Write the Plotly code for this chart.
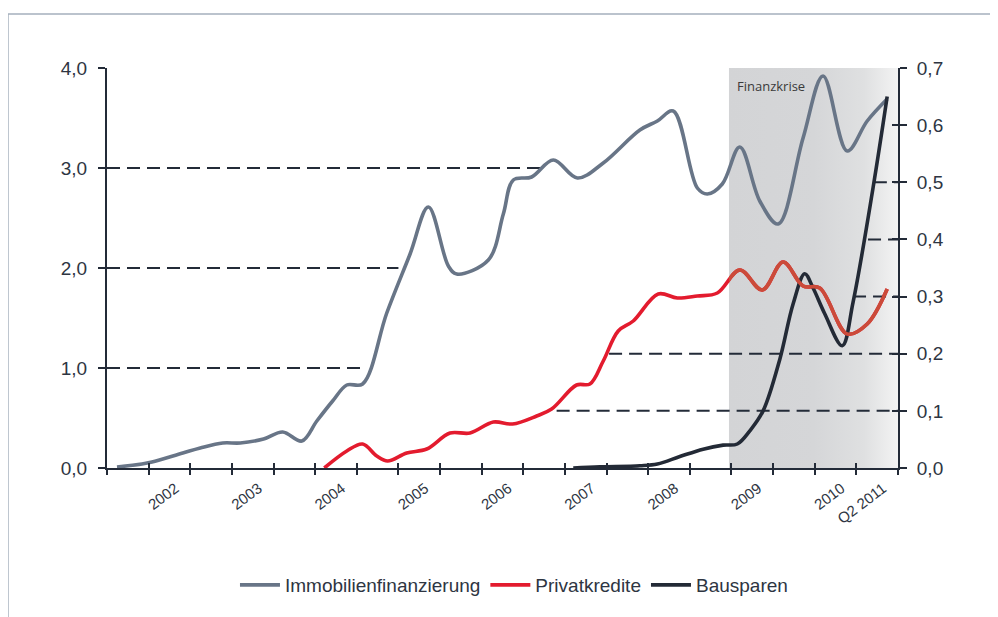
import plotly.graph_objects as go

# ---------------- data ----------------
immo_x = [2001.12, 2001.42, 2001.54, 2001.91, 2002.12, 2002.39, 2002.60, 2002.88, 2003.11, 2003.34,
          2003.52, 2003.71, 2003.88, 2004.07, 2004.36, 2004.64, 2004.86, 2005.10, 2005.20, 2005.58,
          2005.76, 2005.88, 2006.10, 2006.36, 2006.65, 2006.96, 2007.40, 2007.61, 2007.80, 2008.09,
          2008.21, 2008.39, 2008.60, 2008.84, 2009.06, 2009.36, 2009.60, 2009.89, 2010.13, 2010.37]
immo_y = [0.01, 0.04, 0.06, 0.15, 0.20, 0.25, 0.25, 0.29, 0.36, 0.27,
          0.47, 0.67, 0.83, 0.84, 1.55, 2.14, 2.61, 2.02, 1.94, 2.08,
          2.54, 2.88, 2.91, 3.08, 2.90, 3.05, 3.38, 3.47, 3.57, 2.80,
          2.74, 2.84, 3.21, 2.67, 2.44, 3.30, 3.92, 3.17, 3.47, 3.69]

priv_x = [2003.61, 2003.88, 2004.07, 2004.24, 2004.37, 2004.60, 2004.84, 2005.12, 2005.36, 2005.64,
          2005.87, 2006.16, 2006.34, 2006.64, 2006.80, 2006.96, 2007.14, 2007.32, 2007.62, 2007.85,
          2008.09, 2008.33, 2008.60, 2008.87, 2009.12, 2009.36, 2009.56, 2009.89, 2010.13, 2010.37]
priv_y = [0.00, 0.17, 0.24, 0.12, 0.07, 0.15, 0.19, 0.35, 0.35, 0.46,
          0.44, 0.52, 0.59, 0.83, 0.84, 1.07, 1.37, 1.47, 1.74, 1.70,
          1.72, 1.75, 1.98, 1.78, 2.06, 1.82, 1.80, 1.34, 1.44, 1.79]

baus_x = [2006.60, 2006.92, 2007.40, 2007.61, 2007.88, 2008.16, 2008.40, 2008.57, 2008.72, 2008.88,
          2009.08, 2009.24, 2009.38, 2009.48, 2009.62, 2009.83, 2009.96, 2010.20, 2010.37]
baus_y = [0.000, 0.002, 0.004, 0.007, 0.020, 0.033, 0.040, 0.042, 0.065, 0.100,
          0.190, 0.287, 0.340, 0.315, 0.270, 0.214, 0.290, 0.490, 0.650]

tick_positions = [2001 + 0.5 * i for i in range(20)]
label_positions = [2002, 2003, 2004, 2005, 2006, 2007, 2008, 2009, 2010, 2010.5]
label_texts = ["2002", "2003", "2004", "2005", "2006", "2007", "2008", "2009", "2010", "Q2 2011"]
label_shift = -0.18  # labels sit slightly left of their tick in the reference

crisis_start, crisis_end = 2008.47, 2010.5
x_range = [2001.0, 2010.5]
left_range = [0, 4]
right_range = [0, 0.7]
left_ticks = [0, 1, 2, 3, 4]
right_ticks = [0, 0.1, 0.2, 0.3, 0.4, 0.5, 0.6, 0.7]

# dashed reference lines: (level, x_start, x_end)
left_dash = [(1.0, 2001.0, 2004.10), (2.0, 2001.0, 2004.50), (3.0, 2001.0, 2006.26)]
right_dash = [(0.1, 2006.40, 2010.5), (0.2, 2007.03, 2010.5), (0.3, 2009.96, 2010.5),
              (0.4, 2010.14, 2010.5), (0.5, 2010.21, 2010.5)]

# ---------------- styles ----------------
C_GRAY = "#687587"
C_RED = "#e31b2e"
C_RED_CRISIS = "#cb4b3a"
C_DARK = "#232a36"
C_AXIS = "#232b38"
C_TEXT = "#2e3542"
LW = 3.6

fig = go.Figure()

# crisis shading with horizontal gradient
fig.add_trace(go.Scatter(
    x=[crisis_start, crisis_end, crisis_end, crisis_start, crisis_start],
    y=[0, 0, 4, 4, 0], mode="lines", line=dict(width=0), fill="toself",
    fillgradient=dict(type="horizontal",
                      colorscale=[[0, "#d3d4d6"], [0.5, "#d5d6d8"], [0.8, "#dfe0e1"], [1, "#f3f3f3"]]),
    hoverinfo="skip", showlegend=False))

# dashed lines
for lvl, x0, x1 in left_dash:
    fig.add_trace(go.Scatter(x=[x0, x1], y=[lvl, lvl], mode="lines",
                             line=dict(color=C_AXIS, width=2, dash="13px,7px"),
                             hoverinfo="skip", showlegend=False))
for lvl, x0, x1 in right_dash:
    fig.add_trace(go.Scatter(x=[x0, x1], y=[lvl, lvl], mode="lines", yaxis="y2",
                             line=dict(color=C_AXIS, width=2, dash="13px,7px"),
                             hoverinfo="skip", showlegend=False))

fig.add_trace(go.Scatter(x=immo_x, y=immo_y, mode="lines", name="Immobilienfinanzierung",
                         line=dict(color=C_GRAY, width=LW, shape="spline")))
fig.add_trace(go.Scatter(x=priv_x, y=priv_y, mode="lines", name="Privatkredite",
                         line=dict(color=C_RED, width=LW, shape="spline")))
fig.add_trace(go.Scatter(x=baus_x, y=baus_y, mode="lines", name="Bausparen", yaxis="y2",
                         line=dict(color=C_DARK, width=LW, shape="spline")))
# tinted red inside the crisis band (clipped by x2 domain)
fig.add_trace(go.Scatter(x=priv_x, y=priv_y, mode="lines", xaxis="x2", yaxis="y",
                         line=dict(color=C_RED_CRISIS, width=LW, shape="spline"),
                         hoverinfo="skip", showlegend=False))

# invisible helper traces so the overlay axes (inside ticks, shifted labels) get drawn
for xa, ya in [("x3", "y"), ("x4", "y"), ("x", "y3"), ("x", "y4")]:
    fig.add_trace(go.Scatter(x=[x_range[0]], y=[0], mode="markers", xaxis=xa, yaxis=ya,
                             marker=dict(opacity=0, size=1), hoverinfo="skip", showlegend=False))

span = x_range[1] - x_range[0]
dom_start = (crisis_start - x_range[0]) / span

axis_common = dict(showgrid=False, zeroline=False, showline=True, linecolor=C_AXIS, linewidth=2,
                   ticks="outside", tickcolor=C_AXIS, tickwidth=2)
overlay_common = dict(showgrid=False, zeroline=False, showline=False, tickcolor=C_AXIS, tickwidth=2)

fig.update_layout(
    width=990, height=609, autosize=False,
    margin=dict(l=99, r=100, t=60, b=149),
    paper_bgcolor="white", plot_bgcolor="rgba(0,0,0,0)",
    separators=",.",
    font=dict(family="Liberation Sans, Arial, sans-serif", color=C_TEXT),
    xaxis=dict(range=x_range, tickvals=tick_positions, showticklabels=False, ticklen=5,
               **axis_common),
    xaxis2=dict(domain=[dom_start, 1], range=[crisis_start, crisis_end], anchor="y",
                visible=False, showgrid=False, zeroline=False),
    xaxis3=dict(overlaying="x", anchor="y", range=x_range, tickvals=tick_positions,
                ticks="inside", ticklen=5, showticklabels=False, **overlay_common),
    xaxis4=dict(overlaying="x", anchor="y", range=x_range,
                tickvals=[p + label_shift for p in label_positions], ticktext=label_texts,
                ticks="outside", ticklen=5, tickcolor="rgba(0,0,0,0)", tickangle=-37,
                tickfont=dict(size=15, color=C_TEXT), showgrid=False, zeroline=False,
                showline=False),
    yaxis=dict(range=left_range, tickvals=left_ticks, tickformat=".1f", ticklen=7,
               ticklabelstandoff=7, tickfont=dict(size=19, color=C_TEXT), **axis_common),
    yaxis2=dict(range=right_range, overlaying="y", side="right", anchor="x",
                tickvals=right_ticks, tickformat=".1f", ticklen=7,
                ticklabelstandoff=6, tickfont=dict(size=19, color=C_TEXT), **axis_common),
    yaxis3=dict(overlaying="y", anchor="x", side="left", range=left_range,
                tickvals=left_ticks, ticks="inside", ticklen=6, showticklabels=False,
                **overlay_common),
    yaxis4=dict(overlaying="y", anchor="x", side="right", range=right_range,
                tickvals=right_ticks, ticks="inside", ticklen=6, showticklabels=False,
                **overlay_common),
    legend=dict(orientation="h", x=0.5145, xanchor="center", y=-0.2925, yanchor="middle",
                font=dict(size=19, color=C_TEXT), bgcolor="rgba(0,0,0,0)",
                itemwidth=40, tracegroupgap=0),
    annotations=[dict(x=2008.975, y=3.82, xref="x", yref="y",
                      text="Finanzkrise", showarrow=False,
                      font=dict(family="Open Sans, Noto Sans, sans-serif", size=13,
                                color="#3a3a3a"))],
    shapes=[
        dict(type="line", xref="paper", yref="paper", x0=-0.1252, x1=1.2, y0=1.135, y1=1.135,
             line=dict(color="#a5afbc", width=1.5)),
        dict(type="line", xref="paper", yref="paper", x0=-0.1252, x1=-0.1252, y0=1.135, y1=-0.45,
             line=dict(color="#a5afbc", width=1.5)),
    ],
)

fig.write_html("out.html")
